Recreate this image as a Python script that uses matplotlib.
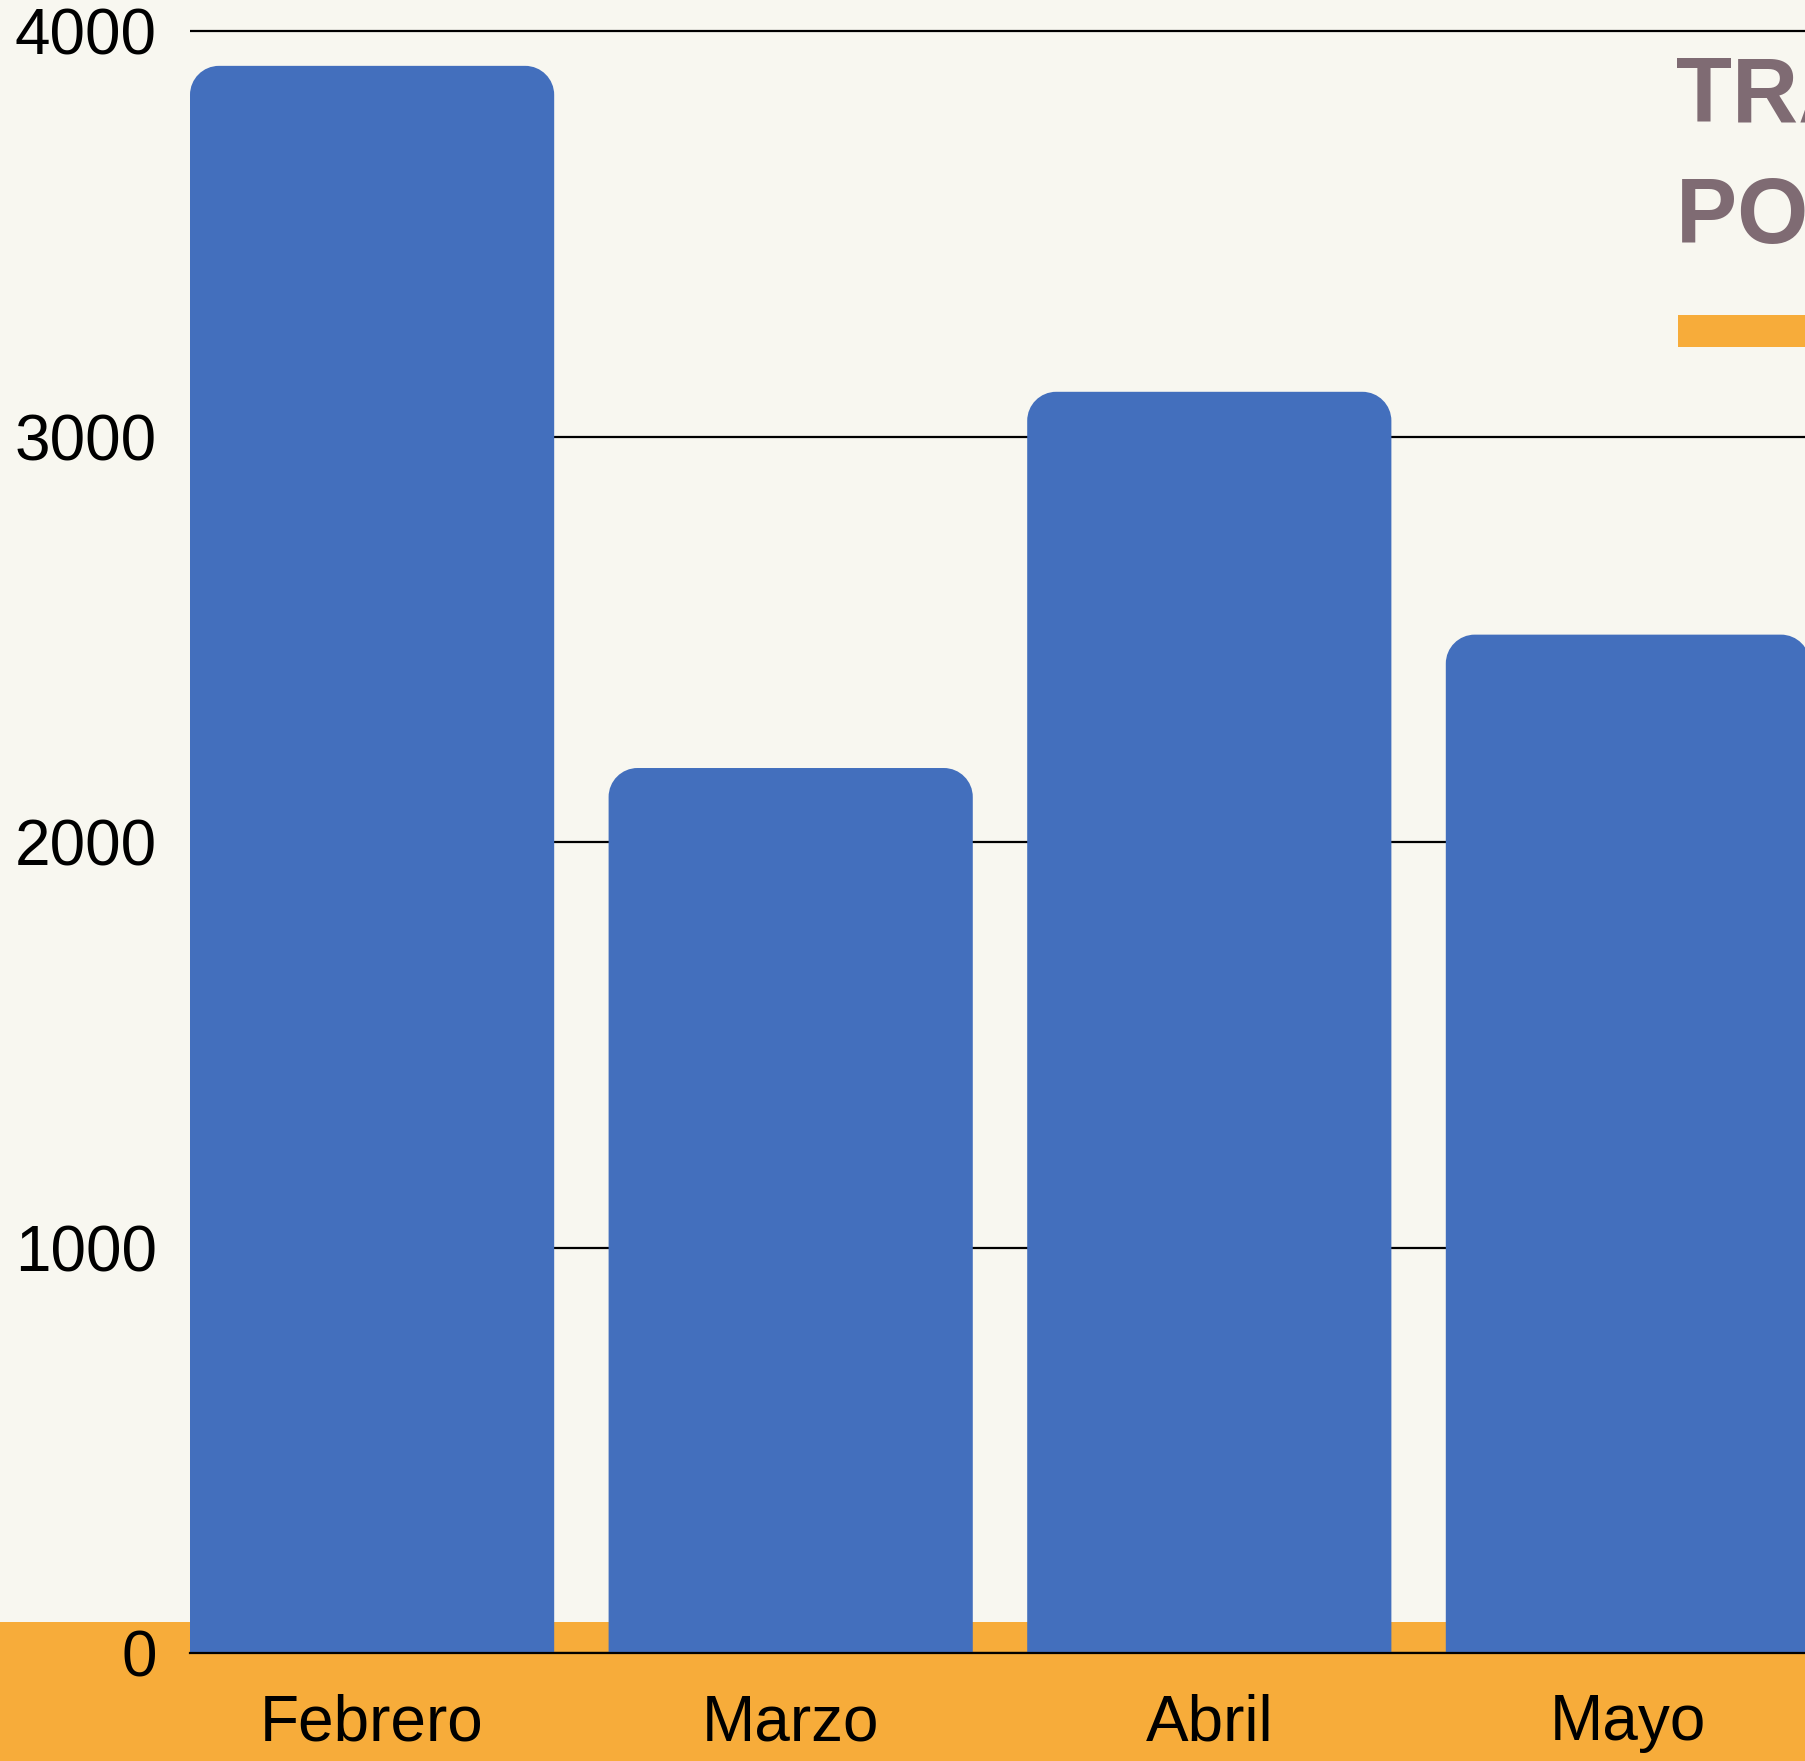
import matplotlib
matplotlib.use('Agg')
import matplotlib.pyplot as plt
from matplotlib.patches import Rectangle, PathPatch
from matplotlib.path import Path

months = ["Febrero", "Marzo", "Abril", "Mayo"]
values = [3915, 2183, 3111, 2512]
y_ticks = [0, 1000, 2000, 3000, 4000]
title_lines = ["TRANSACCIONES", "POR MES"]

BG = '#f8f7f0'
ORANGE = '#f7ac3a'
BLUE = '#436fbd'
TITLE_C = '#7f6b73'

W, H = 1806, 1761
DPI = 100
plt.rcParams['font.family'] = ['Liberation Sans', 'DejaVu Sans']
fig = plt.figure(figsize=(W / DPI, H / DPI), dpi=DPI, facecolor=BG)

# orange band at the bottom
fig.patches.append(Rectangle((0, 0), 1, 139 / H, transform=fig.transFigure,
                             facecolor=ORANGE, edgecolor='none', zorder=-1))

unit_px = 418.6          # pixels per category
ypx_per_unit = 405.4 / 1000
xlim = (-0.435, 3.6)
ylim = (0, 4050)
ax = fig.add_axes([190 / W, 108 / H, (xlim[1] - xlim[0]) * unit_px / W,
                   ylim[1] * ypx_per_unit / H])
ax.set_facecolor('none')
ax.set_xlim(xlim)
ax.set_ylim(ylim)

x = list(range(len(months)))
bars = ax.bar(x, values, width=0.87, color=BLUE, linewidth=0)

r_px = 29
rx = r_px / unit_px
ry = r_px / ypx_per_unit
k = 0.5523
for b in bars:
    x0, w, h = b.get_x(), b.get_width(), b.get_height()
    x1 = x0 + w
    b.set_visible(False)
    verts = [(x0, 0), (x0, h - ry),
             (x0, h - ry + k * ry), (x0 + rx - k * rx, h), (x0 + rx, h),
             (x1 - rx, h),
             (x1 - rx + k * rx, h), (x1, h - ry + k * ry), (x1, h - ry),
             (x1, 0), (x0, 0)]
    codes = [Path.MOVETO, Path.LINETO,
             Path.CURVE4, Path.CURVE4, Path.CURVE4,
             Path.LINETO,
             Path.CURVE4, Path.CURVE4, Path.CURVE4,
             Path.LINETO, Path.CLOSEPOLY]
    ax.add_patch(PathPatch(Path(verts, codes), facecolor=BLUE,
                           edgecolor='none', zorder=3))

ax.set_axisbelow(True)
ax.yaxis.grid(True, color='black', linewidth=1.6)
ax.xaxis.grid(False)
ax.set_yticks(y_ticks)
ax.set_xticks(x)
ax.set_xticklabels(months)
for s in ['top', 'right', 'left']:
    ax.spines[s].set_visible(False)
ax.spines['bottom'].set_color('black')
ax.spines['bottom'].set_linewidth(1.6)
ax.spines['bottom'].set_zorder(4)
ax.tick_params(axis='both', length=0, labelsize=46, colors='black')
ax.tick_params(axis='y', pad=24)
ax.tick_params(axis='x', pad=29)

# title (partly outside the visible area, as in the reference)
fig.text(1676 / W, (H - 122) / H, title_lines[0], fontsize=66, fontweight='bold',
         color=TITLE_C, ha='left', va='baseline')
fig.text(1676 / W, (H - 243) / H, title_lines[1], fontsize=66, fontweight='bold',
         color=TITLE_C, ha='left', va='baseline')
fig.patches.append(Rectangle((1678 / W, (H - 347) / H), 1, 32 / H,
                             transform=fig.transFigure, facecolor=ORANGE,
                             edgecolor='none', zorder=5))

fig.savefig('out.png', dpi=DPI, facecolor=BG)
